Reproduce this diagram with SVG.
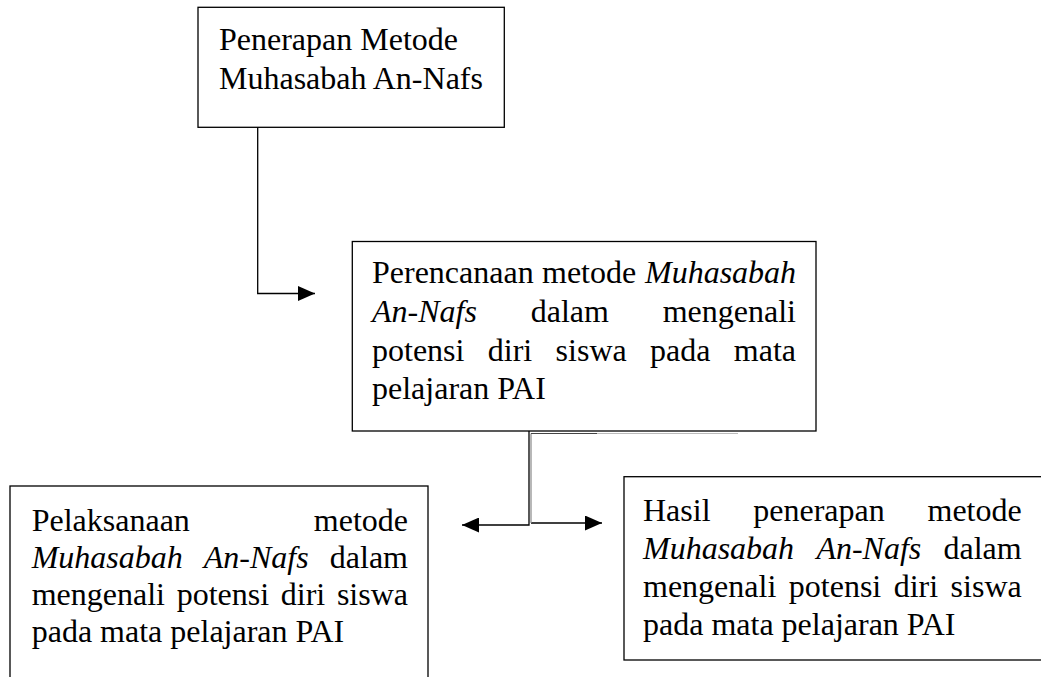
<svg xmlns="http://www.w3.org/2000/svg" width="1041" height="677" viewBox="0 0 1041 677">
  <defs>
    <style>
      .box { fill: #ffffff; stroke: #000000; stroke-width: 1.3; }
      .t { font-family: "Liberation Serif", "Times New Roman", serif; font-size: 32px; fill: #000000; }
      .i { font-style: italic; }
      .e { text-anchor: end; }
      .c { fill: none; stroke: #000000; stroke-width: 1.3; }
    </style>
    <marker id="arrow" markerUnits="userSpaceOnUse" markerWidth="17" markerHeight="15" refX="17" refY="7.5" orient="auto">
      <path d="M0,0 L17,7.5 L0,15 z" fill="#000000"/>
    </marker>
  </defs>
  <rect x="0" y="0" width="1041" height="677" fill="#ffffff"/>

  <g id="node-penerapan">
    <rect class="box" x="198" y="7.3" width="306.3" height="120"/>
    <text class="t" x="219" y="50">Penerapan Metode</text>
    <text class="t" x="219" y="89">Muhasabah An-Nafs</text>
  </g>

  <g id="node-perencanaan">
    <rect class="box" x="352.3" y="241.5" width="463.7" height="189.5"/>
    <text class="t" y="283"><tspan x="372">Perencanaan</tspan><tspan x="542">metode</tspan><tspan x="645" class="i">Muhasabah</tspan></text>
    <text class="t" y="322"><tspan x="372" class="i">An-Nafs</tspan><tspan x="530.7">dalam</tspan></text>
    <text class="t e" x="796" y="322">mengenali</text>
    <text class="t" y="360.5"><tspan x="372">potensi</tspan><tspan x="487.8">diri</tspan><tspan x="555.6">siswa</tspan><tspan x="650.1">pada</tspan></text>
    <text class="t e" x="796" y="360.5">mata</text>
    <text class="t" x="372" y="399">pelajaran PAI</text>
  </g>

  <g id="node-pelaksanaan">
    <rect class="box" x="10" y="486" width="418" height="210"/>
    <text class="t" x="31.7" y="531">Pelaksanaan</text>
    <text class="t e" x="408" y="531">metode</text>
    <text class="t" y="568"><tspan x="31.7" class="i">Muhasabah</tspan><tspan x="203.8" class="i">An-Nafs</tspan></text>
    <text class="t e" x="408" y="568">dalam</text>
    <text class="t" y="605"><tspan x="31.7">mengenali</tspan><tspan x="176.7">potensi</tspan><tspan x="280.8">diri</tspan></text>
    <text class="t e" x="408" y="605">siswa</text>
    <text class="t" x="31.7" y="642">pada mata pelajaran PAI</text>
  </g>

  <g id="node-hasil">
    <rect class="box" x="624" y="476.7" width="430" height="183.3"/>
    <text class="t" y="521"><tspan x="643">Hasil</tspan><tspan x="753.3">penerapan</tspan></text>
    <text class="t e" x="1021.7" y="521">metode</text>
    <text class="t" y="559"><tspan x="643" class="i">Muhasabah</tspan><tspan x="816.4" class="i">An-Nafs</tspan></text>
    <text class="t e" x="1021.7" y="559">dalam</text>
    <text class="t" y="597"><tspan x="643">mengenali</tspan><tspan x="788.8">potensi</tspan><tspan x="893.7">diri</tspan></text>
    <text class="t e" x="1021.7" y="597">siswa</text>
    <text class="t" x="643" y="635">pada mata pelajaran PAI</text>
  </g>

  <g id="connectors">
    <path class="c" d="M257.7,127.3 V293.5 H315" marker-end="url(#arrow)"/>
    <path class="c" d="M529,431 V525 H462" marker-end="url(#arrow)"/>
    <path class="c" d="M531,523 H602" marker-end="url(#arrow)"/>
    <line x1="531" y1="433.5" x2="531" y2="523" stroke="#888888" stroke-width="1.2"/>
    <line x1="531" y1="433.5" x2="597" y2="433.5" stroke="#444444" stroke-width="1.2"/>
    <line x1="597" y1="433.5" x2="738" y2="433.5" stroke="#bbbbbb" stroke-width="1"/>
  </g>
</svg>
